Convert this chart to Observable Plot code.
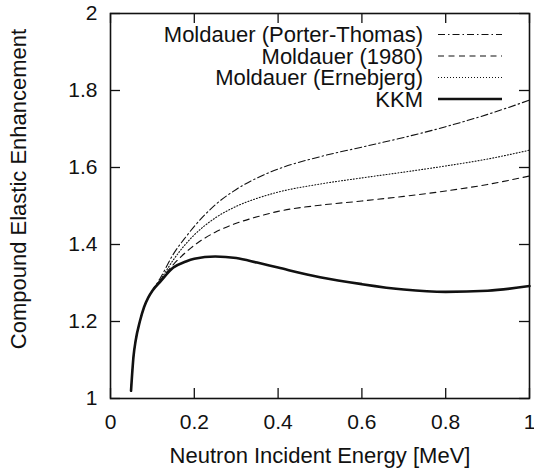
<!DOCTYPE html>
<html>
<head>
<meta charset="utf-8">
<script src="https://cdn.jsdelivr.net/npm/d3@7"></script>
<script src="https://cdn.jsdelivr.net/npm/@observablehq/plot@0.6"></script>
<style>
  html, body { margin: 0; padding: 0; background: #fff; }
  #chart { width: 534px; height: 470px; }
</style>
</head>
<body>
<div id="chart"></div>
<script>
// ---- data ----
const energy = [0.049, 0.055, 0.06, 0.07, 0.08, 0.09, 0.1, 0.12, 0.15, 0.18, 0.2, 0.25, 0.3, 0.35, 0.4, 0.5, 0.6, 0.7, 0.8, 0.9, 1.0];
const porterThomas = [1.02, 1.11, 1.15, 1.2, 1.237, 1.262, 1.28, 1.315, 1.375, 1.42, 1.447, 1.503, 1.543, 1.573, 1.596, 1.628, 1.653, 1.678, 1.706, 1.738, 1.775];
const moldauer1980 = [1.02, 1.11, 1.15, 1.2, 1.237, 1.262, 1.28, 1.308, 1.348, 1.38, 1.398, 1.432, 1.455, 1.472, 1.486, 1.502, 1.513, 1.525, 1.539, 1.556, 1.578];
const ernebjerg    = [1.02, 1.11, 1.15, 1.2, 1.237, 1.262, 1.28, 1.31, 1.36, 1.402, 1.425, 1.469, 1.499, 1.52, 1.536, 1.557, 1.573, 1.588, 1.604, 1.622, 1.645];
const kkm          = [1.02, 1.11, 1.15, 1.2, 1.237, 1.262, 1.28, 1.305, 1.34, 1.356, 1.363, 1.369, 1.365, 1.353, 1.34, 1.315, 1.297, 1.283, 1.277, 1.28, 1.292];

const seriesNames = ["Moldauer (Porter-Thomas)", "Moldauer (1980)", "Moldauer (Ernebjerg)", "KKM"];
const seriesValues = [porterThomas, moldauer1980, ernebjerg, kkm];
const seriesDash = ["7,3,1.5,3", "6,4.5", "1,2", null];
const seriesWidth = [1.1, 1.1, 1.1, 2.6];

const xTicks = [0, 0.2, 0.4, 0.6, 0.8, 1];
const yTicks = [1, 1.2, 1.4, 1.6, 1.8, 2];
const xTitle = "Neutron Incident Energy [MeV]";
const yTitle = "Compound Elastic Enhancement";

// ---- build ----
const W = 534, H = 470;
const mL = 110, mR = 5, mT = 13, mB = 72;
const fw = W - mL - mR, fh = H - mT - mB;
const tickLen = 10;

const lineMarks = seriesNames.map((name, i) => {
  const rows = energy.map((e, j) => ({e, v: seriesValues[i][j]}));
  return Plot.line(rows, {
    x: "e", y: "v", curve: "monotone-x",
    stroke: "#111", strokeWidth: seriesWidth[i],
    strokeDasharray: seriesDash[i] ?? undefined
  });
});

const plot = Plot.plot({
  width: W, height: H,
  marginLeft: mL, marginRight: mR, marginTop: mT, marginBottom: mB,
  style: {fontFamily: "'Liberation Sans', Arial, Helvetica, sans-serif", fontSize: "21px", background: "#fff", color: "#111"},
  x: {domain: [0, 1]},
  y: {domain: [1, 2]},
  marks: [
    ...lineMarks,
    // inward ticks on all four sides
    Plot.tickX(xTicks, {x: d => d, insetTop: fh - tickLen, stroke: "#111", strokeWidth: 1.3}),
    Plot.tickX(xTicks, {x: d => d, insetBottom: fh - tickLen, stroke: "#111", strokeWidth: 1.3}),
    Plot.tickY(yTicks, {y: d => d, insetRight: fw - tickLen, stroke: "#111", strokeWidth: 1.3}),
    Plot.tickY(yTicks, {y: d => d, insetLeft: fw - tickLen, stroke: "#111", strokeWidth: 1.3}),
    Plot.axisX({ticks: xTicks, tickSize: 0, tickPadding: 16, tickFormat: d => String(d), label: null}),
    Plot.axisY({ticks: yTicks, tickSize: 0, tickPadding: 13, tickFormat: d => String(d), label: null}),
    Plot.text([xTitle], {text: d => d, frameAnchor: "bottom", lineAnchor: "middle", textAnchor: "middle", dy: 57, fontSize: 22}),
    Plot.text([yTitle], {text: d => d, frameAnchor: "left", lineAnchor: "middle", textAnchor: "middle", rotate: -90, dx: -92, dy: -17, fontSize: 22}),
    Plot.frame({stroke: "#111", strokeWidth: 1.6})
  ]
});

// legend (top-right, inside the frame)
const svg = d3.select(plot);
const lg = svg.append("g").attr("class", "legend").attr("font-size", 22);
const rowY0 = 34.5, rowStep = 21.5;
seriesNames.forEach((name, i) => {
  const y = rowY0 + i * rowStep;
  lg.append("text")
    .attr("x", 423).attr("y", y).attr("dy", "0.35em")
    .attr("text-anchor", "end").attr("fill", "#111")
    .text(name);
  lg.append("line")
    .attr("x1", 438).attr("x2", 502).attr("y1", y).attr("y2", y)
    .attr("stroke", "#111").attr("stroke-width", seriesWidth[i])
    .attr("stroke-dasharray", seriesDash[i]);
});

document.getElementById("chart").appendChild(plot);
</script>
</body>
</html>
